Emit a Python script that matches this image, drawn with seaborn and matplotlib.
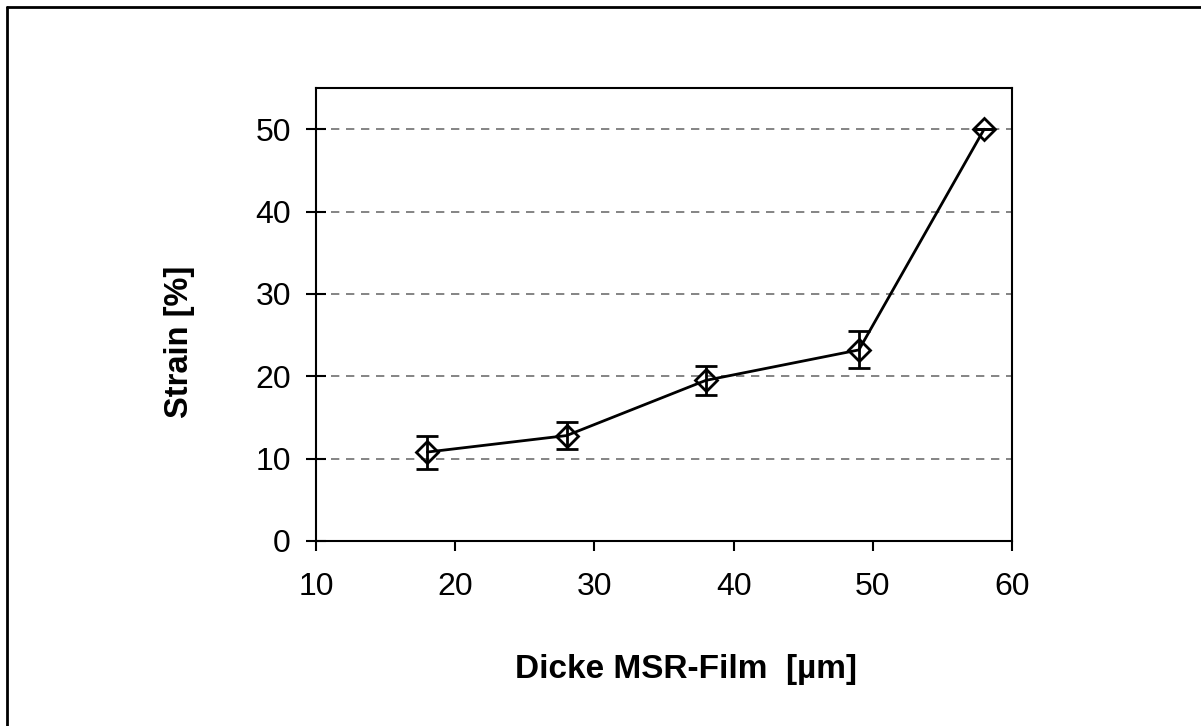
import matplotlib
matplotlib.use("Agg")
import matplotlib.pyplot as plt
import seaborn as sns
import pandas as pd
from matplotlib.lines import Line2D

thickness = [18, 28, 38, 49, 58]
strain = [10.8, 12.8, 19.5, 23.2, 50.0]
strain_err = [2.0, 1.6, 1.75, 2.25, 0.0]
x_ticks = [10, 20, 30, 40, 50, 60]
y_ticks = [0, 10, 20, 30, 40, 50]

sns.set_theme(style="white")
plt.rcParams['font.family'] = ['Liberation Sans', 'DejaVu Sans']

df = pd.DataFrame({"x": thickness, "y": strain})

fig = plt.figure(figsize=(12.01, 7.26), dpi=100)
ax = fig.add_axes([316/1201, 1 - 541/726, (1012 - 316)/1201, (541 - 88)/726])

ax.set_axisbelow(True)
ax.grid(axis="y", color="#707070", linestyle=(0, (5, 4)), linewidth=1.2)
ax.grid(axis="x", visible=False)

ax.errorbar(thickness, strain, yerr=strain_err, fmt="none", ecolor="black",
            elinewidth=2, capsize=8, capthick=2, zorder=3)
sns.lineplot(data=df, x="x", y="y", ax=ax, color="black", linewidth=2,
             marker="D", markersize=11, markerfacecolor="none",
             markeredgecolor="black", markeredgewidth=2, zorder=4)

ax.set_xlim(10, 60)
ax.set_ylim(0, 55)
ax.set_xticks(x_ticks)
ax.set_yticks(y_ticks)
ax.tick_params(axis="y", direction="inout", length=14, width=1.5, labelsize=23,
               pad=11, colors="black", left=True)
ax.tick_params(axis="x", direction="out", length=7, width=1.5, labelsize=23,
               pad=15, colors="black", bottom=True)
for s in ax.spines.values():
    s.set_color("black")
    s.set_linewidth(1.5)

ax.set_xlabel("Dicke MSR-Film  [µm]", fontsize=24, fontweight="bold", color="black")
ax.set_ylabel("Strain [%]", fontsize=23.5, fontweight="bold", color="black")
ax.xaxis.set_label_coords(0.532, -0.25)
ax.yaxis.set_label_coords(-0.174, 0.44)

# figure frame (top and left edges visible)
fig.add_artist(Line2D([7/1201, 7/1201], [0, 1 - 7/726], transform=fig.transFigure,
                      color="black", linewidth=2))
fig.add_artist(Line2D([7/1201, 1], [1 - 7/726, 1 - 7/726], transform=fig.transFigure,
                      color="black", linewidth=2))

fig.savefig("out.png", dpi=100)
